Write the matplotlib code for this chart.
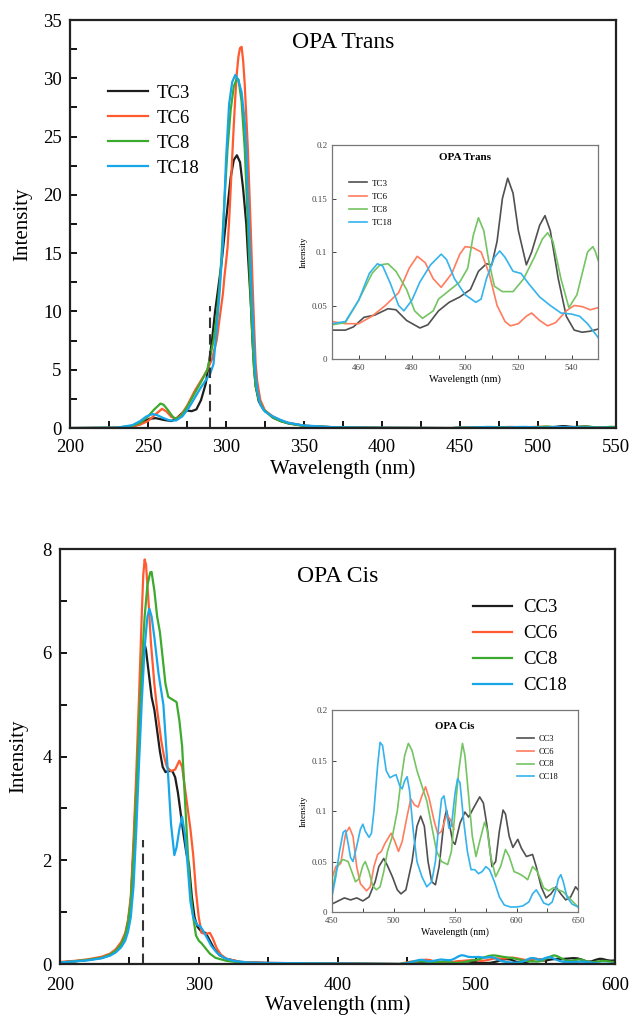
import numpy as np
import matplotlib
matplotlib.use('Agg')
import matplotlib.pyplot as plt
from matplotlib.ticker import MultipleLocator, FormatStrFormatter

plt.rcParams['font.family'] = ['Liberation Serif', 'DejaVu Serif']

# ---- OPA Trans, main peak (nm, intensity)
tc3_x = [200, 230, 240, 245, 248, 251, 255, 260, 265, 268, 272, 275, 278, 281, 284, 287, 289, 291, 293, 295,
         297, 299, 301, 303, 305, 307, 309, 311, 313, 314, 316, 317, 318, 319, 321, 324, 330, 335, 340, 350,
         370, 400, 445]
tc3_y = [0, 0.02, 0.15, 0.35, 0.6, 0.8, 0.85, 0.7, 0.6, 0.8, 1.3, 1.5, 1.45, 1.6, 2.4, 3.8, 5.5, 7.5, 10, 12,
         14, 16.5, 19, 21.5, 23, 23.4, 22.8, 20.5, 17.5, 15, 10.5, 7.5, 5.2, 3.6, 2.3, 1.6, 0.9, 0.6, 0.4, 0.2,
         0.06, 0.02, 0]
tc6_x = [200, 230, 240, 245, 250, 255, 259, 262, 265, 268, 271, 275, 280, 285, 288, 291, 294, 296, 298, 299,
         300, 301, 302, 303, 304, 305, 306, 307, 308, 309, 310, 311, 312, 314, 316, 317, 318, 319, 320, 322,
         325, 330, 335, 340, 350, 370, 400, 445]
tc6_y = [0, 0.02, 0.12, 0.3, 0.6, 1.2, 1.65, 1.4, 0.95, 0.8, 1.1, 1.9, 3.2, 4.3, 5.0, 5.9, 7.5, 9.5, 11.5, 13,
         14.2, 15.5, 17.8, 20.5, 23.3, 26, 28.5, 30.5, 31.9, 32.6, 32.7, 31.5, 29.5, 24, 16.5, 12.5, 8.8, 5.5, 4.0, 2.4,
         1.5, 1.0, 0.65, 0.45, 0.2, 0.06, 0.02, 0]
tc8_x = [200, 230, 240, 245, 250, 254, 258, 260, 263, 266, 268, 271, 275, 280, 285, 288, 290, 292, 294, 296,
         297, 299, 301, 303, 305, 307, 308, 310, 312, 314, 315, 316, 317, 318, 319, 321, 324, 330, 335, 340,
         350, 370, 400, 445]
tc8_y = [0, 0.03, 0.2, 0.45, 1.0, 1.6, 2.1, 2.0, 1.5, 0.95, 0.8, 1.0, 1.8, 3.0, 4.2, 5.0, 6.2, 7.5, 9.5, 12.5,
         14.5, 19.5, 24, 27.3, 29.3, 30, 29.9, 28, 24, 17.5, 14, 10.5, 7.5, 5, 3.6, 2.4, 1.6, 0.9, 0.6, 0.4,
         0.18, 0.05, 0.02, 0]
tc18_x = [200, 230, 240, 245, 249, 253, 256, 260, 264, 268, 272, 276, 280, 284, 288, 290, 292, 294, 296, 298,
          300, 302, 304, 306, 308, 310, 312, 313, 314, 315, 316, 317, 318, 319, 320, 322, 325, 330, 335, 340,
          350, 370, 400, 445]
tc18_y = [0, 0.03, 0.25, 0.6, 1.0, 1.2, 1.1, 0.85, 0.65, 0.65, 1.0, 1.7, 2.6, 3.5, 4.3, 4.7, 5.5, 8.5, 11.8, 16,
          23, 27.8, 29.7, 30.3, 29.8, 28.8, 26.3, 24, 20, 16.5, 13, 9.8, 7, 4.5, 3.3, 2.0, 1.4, 1.0, 0.7, 0.45,
          0.22, 0.07, 0.02, 0]

# ---- OPA Trans, visible region (inset)
ti_tc3_x = [450, 455, 458, 462, 466, 471, 474, 478, 483, 486, 490, 494, 498, 502, 505, 508, 510, 512, 514, 516,
            518, 520, 523, 525, 528, 530, 532, 535, 538, 541, 544, 547, 550]
ti_tc3_y = [0.027, 0.027, 0.03, 0.039, 0.041, 0.047, 0.046, 0.036, 0.029, 0.032, 0.045, 0.053, 0.058, 0.065, 0.082,
            0.089, 0.088, 0.11, 0.15, 0.169, 0.155, 0.12, 0.088, 0.1, 0.125, 0.134, 0.12, 0.075, 0.04, 0.027, 0.025,
            0.026, 0.028]
ti_tc6_x = [450, 455, 460, 465, 470, 475, 479, 482, 485, 488, 491, 495, 498, 500, 503, 506, 509, 512, 515, 517,
            520, 523, 525, 528, 531, 534, 538, 541, 544, 547, 550]
ti_tc6_y = [0.035, 0.033, 0.033, 0.04, 0.05, 0.062, 0.085, 0.096, 0.09, 0.075, 0.067, 0.08, 0.098, 0.105, 0.104, 0.1,
            0.08, 0.05, 0.035, 0.031, 0.033, 0.04, 0.043, 0.036, 0.031, 0.034, 0.045, 0.05, 0.049, 0.046, 0.048]
ti_tc8_x = [450, 455, 460, 465, 468, 471, 474, 478, 481, 484, 488, 490, 494, 498, 501, 503, 505, 507, 509, 511,
            514, 518, 522, 526, 529, 531, 533, 536, 539, 542, 544, 546, 548, 549, 550]
ti_tc8_y = [0.032, 0.034, 0.055, 0.08, 0.088, 0.089, 0.082, 0.065, 0.045, 0.038, 0.045, 0.056, 0.064, 0.072, 0.085,
            0.115, 0.132, 0.12, 0.09, 0.068, 0.063, 0.063, 0.075, 0.095, 0.112, 0.118, 0.11, 0.075, 0.048, 0.06,
            0.08, 0.1, 0.105, 0.1, 0.092]
ti_tc18_x = [450, 455, 460, 464, 467, 469, 472, 475, 477, 480, 483, 487, 491, 493, 496, 500, 504, 506, 508, 511,
             513, 515, 518, 521, 524, 528, 532, 536, 540, 543, 546, 550]
ti_tc18_y = [0.033, 0.035, 0.055, 0.08, 0.089, 0.087, 0.07, 0.05, 0.045, 0.055, 0.072, 0.088, 0.098, 0.093, 0.075,
             0.06, 0.053, 0.056, 0.075, 0.095, 0.101, 0.095, 0.082, 0.08, 0.07, 0.058, 0.05, 0.043, 0.042, 0.04,
             0.033, 0.02]

# ---- OPA Cis, main peak
cc3_x = [200, 210, 220, 230, 236, 240, 244, 247, 249, 251, 253, 255, 257, 259, 261, 262, 264, 266, 268, 270,
         272, 274, 276, 278, 281, 283, 285, 287, 289, 291, 293, 295, 297, 299, 302, 305, 308, 311, 315, 320,
         330, 350, 400, 445]
cc3_y = [0.03, 0.05, 0.08, 0.12, 0.18, 0.25, 0.38, 0.55, 0.8, 1.2, 2.2, 3.4, 4.6, 5.6, 6.17, 6.05, 5.6, 5.15, 4.9, 4.5,
         4.1, 3.8, 3.7, 3.72, 3.72, 3.6, 3.3, 2.9, 2.5, 2.15, 1.9, 1.3, 0.9, 0.72, 0.62, 0.6, 0.45, 0.3, 0.17, 0.1,
         0.04, 0.02, 0.01, 0]
cc6_x = [200, 210, 220, 230, 236, 240, 244, 247, 249, 251, 253, 255, 257, 259, 260, 261, 262, 264, 265.5, 268,
         270, 273, 275, 277, 280, 283, 286, 288, 290, 292, 294, 296, 298, 300, 302, 305, 308, 310, 313, 316,
         320, 330, 350, 400, 445]
cc6_y = [0.04, 0.06, 0.09, 0.14, 0.2, 0.28, 0.42, 0.6, 0.85, 1.3, 2.4, 3.7, 5.2, 6.8, 7.5, 7.8, 7.7, 6.9, 6.2, 5.4,
         4.9, 4.3, 4.0, 3.8, 3.72, 3.75, 3.92, 3.8, 3.4, 3.0, 2.6, 2.1, 1.4, 0.9, 0.6, 0.58, 0.6, 0.5, 0.3, 0.18,
         0.1, 0.04, 0.02, 0.01, 0]
cc8_x = [200, 210, 220, 230, 236, 240, 244, 247, 249, 251, 253, 255, 257, 259, 261, 263, 265, 266, 268, 270,
         272, 274, 276, 278, 281, 284, 286, 288, 290, 292, 294, 296, 298, 300, 302, 305, 308, 312, 320, 330,
         350, 445]
cc8_y = [0.03, 0.05, 0.08, 0.12, 0.18, 0.25, 0.38, 0.55, 0.8, 1.2, 2.1, 3.3, 4.6, 5.8, 6.7, 7.3, 7.55, 7.56, 7.2, 6.7,
         6.4, 5.9, 5.4, 5.15, 5.1, 5.05, 4.7, 4.2, 3.2, 2.2, 1.4, 0.9, 0.55, 0.45, 0.4, 0.3, 0.2, 0.12, 0.06, 0.03,
         0.01, 0]
cc18_x = [200, 210, 220, 230, 236, 240, 244, 247, 249, 251, 253, 255, 257, 259, 261, 263, 264.4, 266, 268, 271,
          274.5, 276, 278, 280, 282.4, 284, 286, 288, 290, 292, 294, 296, 299, 301, 303, 306, 309, 313, 318, 325,
          335, 350, 400, 445]
cc18_y = [0.03, 0.05, 0.07, 0.11, 0.16, 0.22, 0.32, 0.45, 0.62, 0.9, 1.5, 2.6, 3.9, 5.1, 6.1, 6.7, 6.85, 6.7, 6.3, 5.6,
          5.0, 4.4, 3.6, 2.7, 2.1, 2.25, 2.6, 2.84, 2.5, 1.9, 1.2, 0.9, 0.75, 0.73, 0.65, 0.5, 0.35, 0.22, 0.12, 0.06,
          0.03, 0.02, 0.01, 0]

# ---- OPA Cis, visible region (inset)
ci_cc3_x = [450, 455, 460, 465, 470, 475, 480, 485, 488, 492, 495, 499, 503, 506, 510, 515, 519, 522, 525, 528,
            531, 534, 537, 541, 543, 545, 548, 550, 554, 558, 561, 565, 570, 573, 576, 580, 583, 586, 589, 591,
            594, 597, 601, 604, 608, 613, 616, 620, 624, 628, 632, 636, 640, 644, 648, 650]
ci_cc3_y = [0.008, 0.011, 0.014, 0.012, 0.014, 0.011, 0.015, 0.03, 0.045, 0.053, 0.046, 0.035, 0.022, 0.018, 0.022,
            0.05, 0.085, 0.095, 0.085, 0.05, 0.03, 0.027, 0.045, 0.09, 0.101, 0.09, 0.07, 0.067, 0.088, 0.099, 0.094,
            0.103, 0.114, 0.108, 0.085, 0.045, 0.05, 0.08, 0.101, 0.097, 0.075, 0.064, 0.072, 0.063, 0.055, 0.057,
            0.045, 0.025, 0.014, 0.018, 0.025, 0.018, 0.012, 0.015, 0.025, 0.022]
ci_cc6_x = [450, 453, 457, 461, 464, 467, 470, 473, 478, 481, 484, 487, 490, 493, 498, 501, 504, 507, 511, 514,
            517, 520, 523, 526, 529, 533, 536, 539, 543, 546, 549]
ci_cc6_y = [0.034, 0.045, 0.048, 0.078, 0.084, 0.075, 0.045, 0.028, 0.021, 0.025, 0.045, 0.057, 0.06, 0.068, 0.078,
            0.07, 0.06, 0.07, 0.095, 0.112, 0.106, 0.104, 0.115, 0.124, 0.112, 0.09, 0.077, 0.08, 0.096, 0.092, 0.082]
ci_cc8_x = [450, 453, 456, 459, 463, 466, 469, 472, 475, 477, 480, 483, 486, 489, 492, 495, 499, 503, 506, 509,
            512, 515, 519, 523, 527, 531, 535, 539, 544, 547, 550, 553, 556, 558, 561, 564, 567, 570, 574, 576,
            579, 583, 587, 591, 594, 598, 602, 606, 609, 613, 617, 622, 626, 630, 634, 638, 642, 646, 650]
ci_cc8_y = [0.02, 0.04, 0.049, 0.052, 0.05, 0.04, 0.03, 0.033, 0.046, 0.05, 0.04, 0.026, 0.022, 0.025, 0.04, 0.06,
            0.075, 0.1, 0.13, 0.155, 0.167, 0.16, 0.14, 0.125, 0.11, 0.085, 0.06, 0.05, 0.047, 0.06, 0.1, 0.14, 0.167,
            0.155, 0.115, 0.075, 0.055, 0.07, 0.089, 0.082, 0.055, 0.035, 0.045, 0.062, 0.055, 0.04, 0.038, 0.035,
            0.032, 0.045, 0.04, 0.024, 0.021, 0.024, 0.022, 0.02, 0.015, 0.01, 0.005]
ci_cc18_x = [450, 453, 456, 459, 461, 463, 465, 467, 470, 473, 475, 477, 480, 482, 484, 487, 489, 491, 494, 497,
             500, 502, 505, 507, 509, 511, 513, 516, 519, 523, 527, 531, 534, 537, 539, 541, 543, 545, 547, 550,
             552, 554, 557, 560, 563, 566, 569, 572, 575, 578, 582, 586, 590, 595, 600, 605, 610, 613, 616, 619,
             622, 626, 629, 632, 634, 636, 638, 641, 645, 650]
ci_cc18_y = [0.016, 0.035, 0.06, 0.079, 0.081, 0.068, 0.054, 0.05, 0.065, 0.082, 0.087, 0.08, 0.074, 0.078, 0.1,
             0.145, 0.168, 0.165, 0.14, 0.133, 0.135, 0.136, 0.125, 0.122, 0.13, 0.134, 0.12, 0.08, 0.05, 0.035,
             0.025, 0.03, 0.05, 0.09, 0.112, 0.115, 0.1, 0.083, 0.085, 0.118, 0.132, 0.128, 0.09, 0.06, 0.042,
             0.042, 0.038, 0.04, 0.045, 0.042, 0.03, 0.015, 0.007, 0.005, 0.005, 0.006, 0.01, 0.018, 0.022, 0.016,
             0.009, 0.007, 0.01, 0.022, 0.033, 0.037, 0.03, 0.015, 0.008, 0.005]

trans_labels = ['TC3', 'TC6', 'TC8', 'TC18']
cis_labels = ['CC3', 'CC6', 'CC8', 'CC18']
colors = ['#1e1e1e', '#ff5a30', '#3caa2e', '#17a6e8']
colors_in = ['#505050', '#ff7c5e', '#74c462', '#34b3ec']

trans_main = [(tc3_x, tc3_y), (tc6_x, tc6_y), (tc8_x, tc8_y), (tc18_x, tc18_y)]
trans_ins = [(ti_tc3_x, ti_tc3_y), (ti_tc6_x, ti_tc6_y), (ti_tc8_x, ti_tc8_y), (ti_tc18_x, ti_tc18_y)]
cis_main = [(cc3_x, cc3_y), (cc6_x, cc6_y), (cc8_x, cc8_y), (cc18_x, cc18_y)]
cis_ins = [(ci_cc3_x, ci_cc3_y), (ci_cc6_x, ci_cc6_y), (ci_cc8_x, ci_cc8_y), (ci_cc18_x, ci_cc18_y)]


def style_main(ax, xpad):
    for s in ax.spines.values():
        s.set_linewidth(1.6)
        s.set_color('#222222')
    ax.tick_params(which='both', direction='in', length=5, width=1.3, labelsize=13.5, top=False, right=False)
    ax.tick_params(axis='x', pad=xpad)
    ax.tick_params(axis='y', pad=6)


def style_inset(ax):
    for s in ax.spines.values():
        s.set_linewidth(0.9)
        s.set_color('#777777')
    ax.tick_params(which='both', direction='in', length=3, width=0.7, labelsize=6.5, colors='#444444')
    ax.yaxis.set_major_formatter(FormatStrFormatter('%g'))


fig = plt.figure(figsize=(6.29, 10.17), dpi=100)

# 上: OPA Trans
ax1 = fig.add_axes([0.1113, 0.5791, 0.868, 0.4012])
for (x, y), (xi, yi), c, lab in zip(trans_main, trans_ins, colors, trans_labels):
    ax1.plot(np.r_[x, xi], np.r_[y, yi], color=c, lw=1.6, label=lab)
ax1.vlines(290, 0, 10.5, colors='#333333', linestyles=(0, (5, 3)), lw=1.5)
ax1.set_xlim(200, 550)
ax1.set_ylim(0, 35)
ax1.xaxis.set_major_locator(MultipleLocator(50))
ax1.xaxis.set_minor_locator(MultipleLocator(25))
ax1.yaxis.set_major_locator(MultipleLocator(5))
ax1.yaxis.set_minor_locator(MultipleLocator(2.5))
style_main(ax1, 8)
ax1.set_xlabel('Wavelength (nm)', fontsize=15, labelpad=2)
ax1.set_ylabel('Intensity', fontsize=15, labelpad=8)
ax1.text(0.5, 0.946, 'OPA Trans', transform=ax1.transAxes, ha='center', va='center', fontsize=17)
ax1.legend(loc='upper left', bbox_to_anchor=(0.07, 0.842), frameon=False, fontsize=13.5, borderpad=0,
           borderaxespad=0, handlelength=2.1, handletextpad=0.5, labelspacing=0.42)

axi1 = fig.add_axes([0.528, 0.647, 0.423, 0.2104])
for (xi, yi), c, lab in zip(trans_ins, colors_in, trans_labels):
    axi1.plot(xi, yi, color=c, lw=1.2, label=lab)
axi1.set_xlim(450, 550)
axi1.set_ylim(0, 0.2)
axi1.xaxis.set_major_locator(MultipleLocator(20))
axi1.xaxis.set_minor_locator(MultipleLocator(10))
axi1.set_xticks([460, 480, 500, 520, 540])
axi1.yaxis.set_major_locator(MultipleLocator(0.05))
style_inset(axi1)
axi1.set_xlabel('Wavelength (nm)', fontsize=7.5, labelpad=2)
axi1.set_ylabel('Intensity', fontsize=6.5, labelpad=3)
axi1.text(0.5, 0.94, 'OPA Trans', transform=axi1.transAxes, ha='center', va='center', fontsize=8, fontweight='bold')
axi1.legend(loc='upper left', bbox_to_anchor=(0.064, 0.84), frameon=False, fontsize=6.5, borderpad=0,
            borderaxespad=0, handlelength=2.0, handletextpad=0.5, labelspacing=0.55)

# 下: OPA Cis
ax2 = fig.add_axes([0.0954, 0.0521, 0.8824, 0.408])
for (x, y), (xi, yi), c, lab in zip(cis_main, cis_ins, colors, cis_labels):
    ax2.plot(np.r_[x, xi], np.r_[y, yi], color=c, lw=1.6, label=lab)
ax2.vlines(260, 0, 2.4, colors='#333333', linestyles=(0, (5, 3)), lw=1.5)
ax2.set_xlim(200, 600)
ax2.set_ylim(0, 8)
ax2.xaxis.set_major_locator(MultipleLocator(100))
ax2.xaxis.set_minor_locator(MultipleLocator(50))
ax2.yaxis.set_major_locator(MultipleLocator(2))
ax2.yaxis.set_minor_locator(MultipleLocator(1))
style_main(ax2, 9)
ax2.set_xlabel('Wavelength (nm)', fontsize=15, labelpad=1)
ax2.set_ylabel('Intensity', fontsize=15, labelpad=10)
ax2.text(0.5, 0.933, 'OPA Cis', transform=ax2.transAxes, ha='center', va='center', fontsize=17)
ax2.legend(loc='upper left', bbox_to_anchor=(0.744, 0.879), frameon=False, fontsize=13.5, borderpad=0,
           borderaxespad=0, handlelength=2.1, handletextpad=0.6, labelspacing=0.47)

axi2 = fig.add_axes([0.528, 0.1032, 0.391, 0.1986])
for (xi, yi), c, lab in zip(cis_ins, colors_in, cis_labels):
    axi2.plot(xi, yi, color=c, lw=1.2, label=lab)
axi2.set_xlim(450, 650)
axi2.set_ylim(0, 0.2)
axi2.xaxis.set_major_locator(MultipleLocator(50))
axi2.xaxis.set_minor_locator(MultipleLocator(25))
axi2.yaxis.set_major_locator(MultipleLocator(0.05))
style_inset(axi2)
axi2.set_xlabel('Wavelength (nm)', fontsize=7, labelpad=2)
axi2.set_ylabel('Intensity', fontsize=6.5, labelpad=3)
axi2.text(0.5, 0.92, 'OPA Cis', transform=axi2.transAxes, ha='center', va='center', fontsize=7.8, fontweight='bold')
axi2.legend(loc='upper left', bbox_to_anchor=(0.752, 0.875), frameon=False, fontsize=6, borderpad=0,
            borderaxespad=0, handlelength=2.0, handletextpad=0.6, labelspacing=0.55)

fig.savefig('out.png', dpi=100)
